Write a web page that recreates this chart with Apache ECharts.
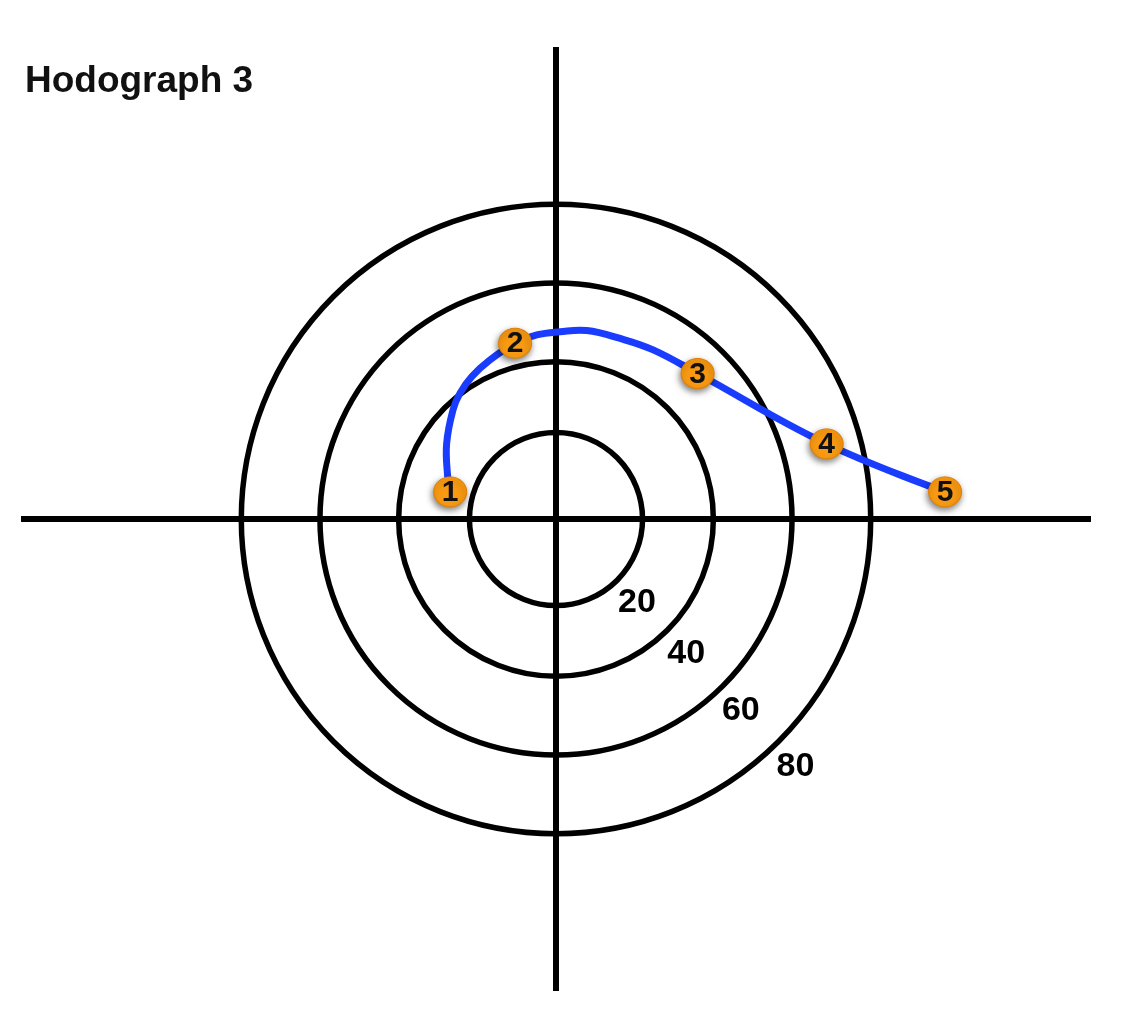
<!DOCTYPE html>
<html>
<head>
<meta charset="utf-8">
<script src="https://cdn.jsdelivr.net/npm/echarts@6/dist/echarts.min.js"></script>
<style>
html,body{margin:0;padding:0;background:#fff;}
#chart{width:1138px;height:1026px;}
</style>
</head>
<body>
<div id="chart"></div>
<script>
// ---- data ----
const chartTitle = 'Hodograph 3';
const ringRadii = [22, 40, 60, 80];
const ringLabels = ['20', '40', '60', '80'];
const stationLabels = ['1', '2', '3', '4', '5'];
const stationU = [-26.9, -10.4, 36.0, 68.8, 98.9];
const stationV = [6.9, 44.7, 37.0, 19.1, 6.9];
const traceU = [-26.9, -27.6, -27.8, -26.2, -24.4, -21.4, -16.8, -10.4, -4.9, 1.0, 7.8, 16.3, 24.7, 36.0, 68.8, 98.9];
const traceV = [6.9, 11.5, 19.2, 27.7, 32.0, 36.2, 40.4, 44.7, 46.8, 47.6, 47.9, 45.9, 43.0, 37.0, 19.1, 6.9];

const FONT = '"Liberation Sans", Arial, Helvetica, sans-serif';
const chart = echarts.init(document.getElementById('chart'), null, {renderer: 'canvas'});

const ringData = ringRadii.map((r, i) => [r, i]);
const traceData = traceU.map((u, i) => [u, traceV[i]]);
const stationData = stationU.map((u, i) => ({value: [u, stationV[i]], name: stationLabels[i]}));

chart.setOption({
  animation: false,
  backgroundColor: '#ffffff',
  title: {
    text: chartTitle, left: 25, top: 63, padding: 0,
    textStyle: {fontFamily: FONT, fontSize: 37, fontWeight: 'bold', color: '#111', lineHeight: 37}
  },
  grid: {left: 21, right: 47, top: 47, bottom: 35},
  xAxis: {
    type: 'value', min: -136, max: 136,
    axisLine: {onZero: true, lineStyle: {color: '#000', width: 6, cap: 'butt'}},
    axisTick: {show: false}, axisLabel: {show: false}, splitLine: {show: false}
  },
  yAxis: {
    type: 'value', min: -120, max: 120,
    axisLine: {onZero: true, lineStyle: {color: '#000', width: 6, cap: 'butt'}},
    axisTick: {show: false}, axisLabel: {show: false}, splitLine: {show: false}
  },
  series: [
    {
      type: 'custom',
      data: ringData,
      z: 3,
      silent: true,
      renderItem: function (params, api) {
        const c = api.coord([0, 0]);
        const r = api.size([api.value(0), 0])[0];
        const idx = api.value(1);
        const ang = 46 * Math.PI / 180;
        const d = r + 30;
        return {
          type: 'group',
          children: [
            {type: 'circle', shape: {cx: c[0], cy: c[1], r: r},
             style: {fill: 'none', stroke: '#000', lineWidth: 5.5}},
            {type: 'text', x: c[0] + d * Math.cos(ang), y: c[1] + d * Math.sin(ang),
             style: {text: ringLabels[idx], fill: '#000', font: 'bold 34px ' + FONT,
                     align: 'center', verticalAlign: 'middle'}}
          ]
        };
      }
    },
    {
      type: 'custom',
      data: [traceData[0]],
      z: 5,
      silent: true,
      renderItem: function (params, api) {
        const pts = traceData.map(p => api.coord(p));
        return {
          type: 'polyline',
          shape: {points: pts, smooth: 0.4},
          style: {fill: null, stroke: '#1A3CFF', lineWidth: 7, lineCap: 'round', lineJoin: 'round'}
        };
      }
    },
    {
      type: 'scatter',
      data: stationData,
      z: 6,
      symbol: 'circle',
      symbolSize: [33, 30],
      itemStyle: {
        color: '#F99A12', borderColor: '#E07F00', borderWidth: 1, opacity: 1,
        shadowBlur: 6, shadowColor: 'rgba(0,0,0,0.5)', shadowOffsetX: -1, shadowOffsetY: 3
      },
      label: {
        show: true, position: 'inside', formatter: '{b}', offset: [0, 1],
        fontFamily: FONT, fontSize: 30, fontWeight: 'bold', color: '#111'
      }
    }
  ]
});
</script>
</body>
</html>
